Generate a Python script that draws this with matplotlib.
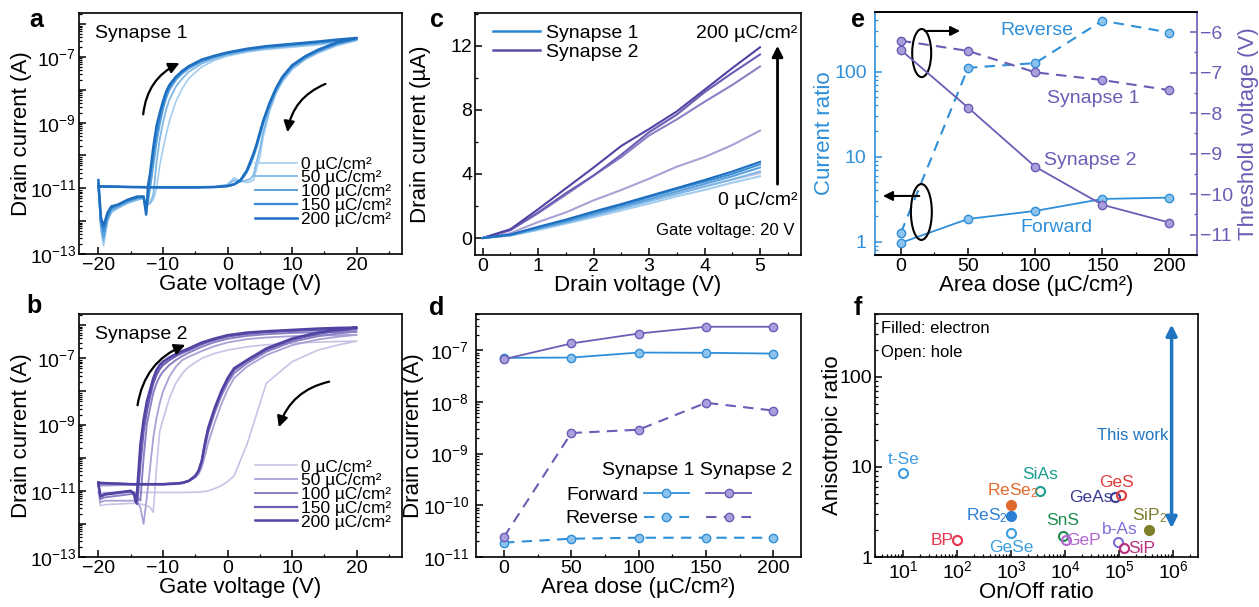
import numpy as np
import matplotlib.pyplot as plt
from matplotlib.patches import Ellipse
from matplotlib.ticker import MultipleLocator, LogLocator, NullFormatter, FuncFormatter

plt.rcParams['font.family'] = ['Liberation Sans', 'DejaVu Sans']
plt.rcParams['mathtext.fontset'] = 'custom'
plt.rcParams['mathtext.rm'] = 'Liberation Sans'
plt.rcParams['mathtext.it'] = 'Liberation Sans:italic'
plt.rcParams['mathtext.default'] = 'regular'
plt.rcParams['xtick.direction'] = 'in'
plt.rcParams['ytick.direction'] = 'in'
plt.rcParams['axes.linewidth'] = 1.2
plt.rcParams['xtick.labelsize'] = 14
plt.rcParams['ytick.labelsize'] = 14
plt.rcParams['axes.labelsize'] = 16

# ---------------- data ----------------
doses = [0, 50, 100, 150, 200]
dose_labels = ['0 µC/cm²', '50 µC/cm²', '100 µC/cm²', '150 µC/cm²', '200 µC/cm²']

# panel a: Synapse 1 transfer curves (log10 of drain current)
fv1 = [-20, -19.6, -19.2, -18.6, -18, -17, -15.5, -14, -13, -12.6, -12.3, -12.0, -11.5, -11, -10.5,
       -10, -9.5, -9, -8, -7, -6, -4, -2, 0, 3, 6, 10, 14, 17, 20]
fwd1 = [
    [-10.95, -12.3, -12.75, -12.0, -11.75, -11.6, -11.45, -11.35, -11.3, -11.45, -11.5, -11.45, -11.35,
     -11.0, -10.3, -9.8, -9.35, -8.95, -8.35, -7.95, -7.65, -7.3, -7.1, -6.97, -6.85, -6.77, -6.7, -6.63, -6.56, -6.5],
    [-10.95, -12.2, -12.6, -12.0, -11.7, -11.6, -11.45, -11.35, -11.3, -11.45, -11.5, -11.45, -11.2,
     -10.2, -9.5, -9.0, -8.6, -8.3, -7.9, -7.65, -7.45, -7.2, -7.05, -6.93, -6.82, -6.74, -6.67, -6.6, -6.54, -6.48],
    [-10.95, -12.1, -12.5, -11.9, -11.65, -11.55, -11.4, -11.3, -11.28, -11.6, -11.4, -11.0, -10.3,
     -9.6, -9.05, -8.6, -8.25, -8.0, -7.7, -7.5, -7.35, -7.14, -7.0, -6.9, -6.79, -6.71, -6.64, -6.57, -6.51, -6.46],
    [-10.85, -12.0, -12.3, -11.85, -11.6, -11.5, -11.38, -11.28, -11.25, -11.7, -11.2, -10.6, -9.95,
     -9.3, -8.85, -8.45, -8.12, -7.9, -7.63, -7.45, -7.3, -7.1, -6.98, -6.88, -6.77, -6.69, -6.62, -6.55, -6.49, -6.44],
    [-10.75, -11.9, -12.15, -11.75, -11.55, -11.5, -11.35, -11.25, -11.25, -11.8, -10.9, -10.55, -9.75,
     -9.1, -8.7, -8.35, -8.05, -7.85, -7.6, -7.42, -7.28, -7.08, -6.96, -6.86, -6.75, -6.67, -6.6, -6.53, -6.47, -6.42],
]
bv1 = [20, 17, 14, 12, 10, 8.5, 7.5, 6.5, 5.5, 5, 4.5, 4, 3.5, 3, 2.5, 2, 1, 0, -2, -5, -10, -15, -20]
bwd1 = [
    [-6.5, -6.65, -6.88, -7.08, -7.38, -7.75, -8.1, -8.65, -9.45, -10.05, -10.4, -10.75, -10.8, -10.82,
     -10.8, -10.78, -10.68, -10.88, -10.95, -10.97, -10.97, -10.96, -10.94],
    [-6.48, -6.62, -6.86, -7.06, -7.35, -7.72, -8.08, -8.6, -9.3, -9.8, -10.2, -10.6, -10.72, -10.75,
     -10.78, -10.8, -10.75, -10.9, -10.96, -10.97, -10.97, -10.96, -10.94],
    [-6.46, -6.6, -6.82, -7.02, -7.3, -7.65, -8.0, -8.48, -9.05, -9.4, -9.75, -10.05, -10.3, -10.5,
     -10.65, -10.78, -10.88, -10.93, -10.96, -10.97, -10.97, -10.96, -10.94],
    [-6.44, -6.57, -6.8, -7.0, -7.27, -7.62, -7.97, -8.43, -8.98, -9.33, -9.68, -9.98, -10.22, -10.47,
     -10.62, -10.76, -10.88, -10.93, -10.96, -10.97, -10.97, -10.96, -10.94],
    [-6.42, -6.55, -6.78, -6.98, -7.25, -7.6, -7.95, -8.4, -8.95, -9.3, -9.65, -9.95, -10.2, -10.45,
     -10.6, -10.75, -10.88, -10.93, -10.96, -10.97, -10.97, -10.96, -10.94],
]

# panel b: Synapse 2 transfer curves (log10 of drain current)
fv2 = [-20, -19.7, -19, -17, -15, -14.5, -14.2, -14, -13.5, -13, -12.5, -12, -11.5, -11, -10.5, -10,
       -9, -8, -7, -6, -4, -2, 0, 3, 6, 10, 14, 17, 20]
fwd2 = [
    [-11.05, -11.45, -11.42, -11.4, -11.38, -11.38, -11.38, -11.38, -11.4, -11.42, -11.45, -11.5, -11.65,
     -10.3, -9.2, -8.85, -8.2, -7.75, -7.45, -7.25, -7.0, -6.85, -6.75, -6.65, -6.59, -6.54, -6.51, -6.49, -6.48],
    [-10.85, -11.35, -11.3, -11.3, -11.3, -11.3, -11.32, -11.35, -11.5, -12.0, -11.2, -10.3, -9.4, -8.8,
     -8.35, -8.0, -7.55, -7.25, -7.05, -6.95, -6.78, -6.63, -6.52, -6.42, -6.37, -6.33, -6.31, -6.3, -6.29],
    [-10.8, -11.25, -11.2, -11.15, -11.1, -11.1, -11.15, -11.2, -11.3, -10.0, -9.0, -8.5, -8.05, -7.75,
     -7.55, -7.4, -7.2, -7.05, -6.93, -6.83, -6.65, -6.51, -6.41, -6.32, -6.27, -6.23, -6.21, -6.2, -6.19],
    [-10.76, -11.2, -11.12, -11.07, -11.02, -11.05, -11.2, -11.4, -10.2, -9.2, -8.6, -8.15, -7.75, -7.5,
     -7.32, -7.2, -7.05, -6.93, -6.83, -6.75, -6.57, -6.44, -6.34, -6.26, -6.21, -6.17, -6.14, -6.12, -6.11],
    [-10.76, -11.15, -11.1, -11.05, -11.0, -11.1, -11.35, -11.0, -9.6, -8.85, -8.3, -7.95, -7.6, -7.35,
     -7.2, -7.1, -6.97, -6.87, -6.78, -6.7, -6.52, -6.4, -6.3, -6.22, -6.18, -6.14, -6.1, -6.08, -6.07],
]
bv2 = [20, 17, 14, 10, 6, 3, 1, 0, -1, -2, -3, -3.5, -4, -4.5, -5, -6, -7, -8, -10, -15, -20]
bwd2 = [
    [-6.48, -6.6, -6.75, -7.1, -7.75, -9.6, -10.55, -10.72, -10.85, -10.93, -11.0, -11.02, -11.03, -11.04,
     -11.04, -11.05, -11.05, -11.05, -11.05, -11.05, -11.05],
    [-6.29, -6.35, -6.43, -6.6, -6.9, -7.25, -7.6, -7.95, -8.4, -8.95, -9.55, -9.95, -10.3, -10.5, -10.6,
     -10.72, -10.78, -10.8, -10.82, -10.82, -10.85],
    [-6.19, -6.25, -6.33, -6.5, -6.8, -7.15, -7.45, -7.75, -8.15, -8.65, -9.25, -9.7, -10.15, -10.42,
     -10.57, -10.7, -10.76, -10.78, -10.8, -10.8, -10.8],
    [-6.11, -6.17, -6.26, -6.44, -6.74, -7.08, -7.35, -7.65, -8.05, -8.55, -9.15, -9.6, -10.1, -10.4,
     -10.55, -10.7, -10.76, -10.78, -10.8, -10.8, -10.76],
    [-6.07, -6.13, -6.22, -6.4, -6.7, -7.05, -7.3, -7.6, -8.0, -8.5, -9.1, -9.55, -10.1, -10.4, -10.55,
     -10.7, -10.76, -10.78, -10.8, -10.8, -10.76],
]

# panel c: output curves at Vg = 20 V (µA)
vd = [0, 0.5, 1, 1.5, 2, 2.5, 3, 3.5, 4, 4.5, 5]
out1 = [
    [0, 0.15, 0.5, 0.9, 1.3, 1.72, 2.15, 2.6, 3.0, 3.45, 3.85],
    [0, 0.17, 0.55, 0.95, 1.4, 1.85, 2.3, 2.75, 3.2, 3.65, 4.15],
    [0, 0.18, 0.6, 1.02, 1.48, 1.95, 2.42, 2.9, 3.38, 3.85, 4.4],
    [0, 0.2, 0.65, 1.1, 1.58, 2.05, 2.55, 3.05, 3.52, 4.0, 4.6],
    [0, 0.22, 0.7, 1.15, 1.65, 2.12, 2.62, 3.12, 3.62, 4.15, 4.75],
]
out2 = [
    [0, 0.17, 0.55, 0.98, 1.45, 1.9, 2.35, 2.8, 3.25, 3.65, 4.05],
    [0, 0.3, 1.0, 1.6, 2.35, 3.0, 3.7, 4.45, 5.05, 5.8, 6.7],
    [0, 0.5, 1.55, 2.7, 3.9, 5.05, 6.4, 7.4, 8.5, 9.55, 10.7],
    [0, 0.5, 1.6, 2.8, 3.9, 5.2, 6.6, 7.7, 9.1, 10.3, 11.45],
    [0, 0.55, 1.8, 3.1, 4.4, 5.75, 6.8, 7.9, 9.25, 10.6, 11.9],
]

# panel d: drain current vs dose (A)
fwd_s1 = [7.1e-8, 7.2e-8, 9.0e-8, 8.9e-8, 8.6e-8]
fwd_s2 = [6.7e-8, 1.35e-7, 2.1e-7, 2.84e-7, 2.84e-7]
rev_s1 = [1.9e-11, 2.26e-11, 2.36e-11, 2.36e-11, 2.36e-11]
rev_s2 = [2.45e-11, 2.5e-9, 2.9e-9, 9.6e-9, 6.8e-9]

# panel e: current ratio and threshold voltage vs dose
ratio_rev = [1.27, 111, 126, 398, 288]
ratio_fwd = [0.97, 1.85, 2.3, 3.18, 3.3]
vth_s1 = [-6.21, -6.46, -6.99, -7.18, -7.43]
vth_s2 = [-6.44, -7.86, -9.32, -10.26, -10.70]

# panel f: benchmark
materials = ['t-Se', 'BP', 'ReSe$_2$', 'ReS$_2$', 'GeSe', 'SiAs', 'SnS', 'GeP', 'GeAs', 'GeS', 'b-As', 'SiP', 'SiP$_2$']
onoff = [10, 100, 1000, 1000, 1000, 3400, 8900, 10200, 83000, 107000, 96000, 123000, 360000]
aniso = [8.5, 1.53, 3.77, 2.87, 1.87, 5.45, 1.71, 1.53, 4.59, 4.9, 1.47, 1.25, 1.98]
filled = [False, False, True, True, False, False, False, False, False, False, False, False, True]
this_work = [1.95, 410]

# ---------------- styles ----------------
blues = ['#a3cdef', '#7fb8e8', '#5aa2de', '#3a8bd3', '#1f6fc0']
purples = ['#c8c3e5', '#a9a1d6', '#8b80c5', '#6a5eb4', '#5044a3']
lws = [1.2, 1.3, 1.4, 1.6, 1.8]
c_blue = '#2f8fd8'
c_purple = '#6a5db5'
mat_colors = ['#3d9be0', '#e8344e', '#e06a2c', '#2b7fd4', '#3da0e0', '#1a9e8f', '#1e8c4e', '#b467d0',
              '#3b3b95', '#e33a3a', '#7b6fd6', '#b8307e', '#7d7d2a']
mat_offsets = [(0, 10), (-11, 0), (1, 10.5), (-17.5, 0), (0, -11), (0, 11.5), (0, 11), (12.5, 0),
               (-17.5, 0), (-3, 9), (1, 9), (12.5, 0), (0, 10.5)]

W, H = 1259, 607
fig = plt.figure(figsize=(W / 100, H / 100), dpi=100)


def add_ax(x0, y0, x1, y1):
    return fig.add_axes([x0 / W, 1 - y1 / H, (x1 - x0) / W, (y1 - y0) / H])


ax_a = add_ax(79, 13, 402, 254)
ax_b = add_ax(79, 314, 402, 557)
ax_c = add_ax(475, 13, 801, 255)
ax_d = add_ax(476, 314, 801, 557)
ax_e = add_ax(875, 12, 1197, 255)
ax_f = add_ax(875, 314, 1198, 557)


def exp_label(y, pos):
    e = int(round(np.log10(y)))
    return '$10^{%d}$' % e if e % 2 == 1 or e % 2 == -1 else ''


def transfer_panel(ax, fv, fwd, bv, bwd, colors, title):
    for i in range(5):
        v = fv + bv
        cur = 10 ** np.array(fwd[i] + bwd[i])
        ax.semilogy(v, cur, color=colors[i], lw=lws[i], label=dose_labels[i])
    ax.set_xlim(-23, 27)
    ax.set_ylim(1e-13, 10 ** -5.66)
    ax.xaxis.set_major_locator(MultipleLocator(10))
    ax.xaxis.set_minor_locator(MultipleLocator(5))
    ax.yaxis.set_major_locator(LogLocator(base=10, numticks=20))
    ax.yaxis.set_major_formatter(FuncFormatter(exp_label))
    ax.yaxis.set_minor_locator(LogLocator(base=10, subs=np.arange(2, 10), numticks=20))
    ax.yaxis.set_minor_formatter(NullFormatter())
    ax.tick_params(which='major', length=5, width=1.1, pad=2)
    ax.tick_params(which='minor', length=2.5, width=0.9)
    ax.set_xlabel('Gate voltage (V)', labelpad=0)
    ax.set_ylabel('Drain current (A)')
    ax.yaxis.set_label_coords(-0.145, 0.5)
    ax.text(0.05, 0.915, title, transform=ax.transAxes, fontsize=14, va='center')
    ax.legend(loc='lower right', bbox_to_anchor=(1.0, 0.07), frameon=False, fontsize=12.5,
              handlelength=2.4, handletextpad=0.25, labelspacing=-0.08, borderaxespad=0.2)


transfer_panel(ax_a, fv1, fwd1, bv1, bwd1, blues, 'Synapse 1')
transfer_panel(ax_b, fv2, fwd2, bv2, bwd2, purples, 'Synapse 2')
arrow_kw = dict(arrowstyle='-|>', color='black', lw=1.6, mutation_scale=16)
ax_a.annotate('', xy=(0.319, 0.797), xytext=(0.198, 0.568), xycoords='axes fraction',
              arrowprops=dict(connectionstyle='arc3,rad=-0.3', **arrow_kw))
ax_a.annotate('', xy=(0.644, 0.494), xytext=(0.771, 0.710), xycoords='axes fraction',
              arrowprops=dict(connectionstyle='arc3,rad=0.3', **arrow_kw))
ax_b.annotate('', xy=(0.337, 0.877), xytext=(0.180, 0.613), xycoords='axes fraction',
              arrowprops=dict(connectionstyle='arc3,rad=-0.3', **arrow_kw))
ax_b.annotate('', xy=(0.616, 0.523), xytext=(0.783, 0.724), xycoords='axes fraction',
              arrowprops=dict(connectionstyle='arc3,rad=0.3', **arrow_kw))

# panel c
for i in range(5):
    ax_c.plot(vd, out2[i], color=purples[i], lw=1.5)
for i in range(5):
    ax_c.plot(vd, out1[i], color=blues[i], lw=1.5)
ax_c.plot([], [], color='#2a86d1', lw=1.8, label='Synapse 1')
ax_c.plot([], [], color='#5a4ea8', lw=1.8, label='Synapse 2')
ax_c.legend(loc='upper left', frameon=False, fontsize=14, handlelength=2.4, handletextpad=0.3,
            labelspacing=0.05, borderaxespad=0.2, bbox_to_anchor=(0.02, 1.0))
ax_c.set_xlim(-0.14, 5.74)
ax_c.set_ylim(-1.06, 14.04)
ax_c.xaxis.set_major_locator(MultipleLocator(1))
ax_c.xaxis.set_minor_locator(MultipleLocator(0.5))
ax_c.yaxis.set_major_locator(MultipleLocator(4))
ax_c.yaxis.set_minor_locator(MultipleLocator(2))
ax_c.tick_params(which='major', length=5, width=1.1, pad=2)
ax_c.tick_params(which='minor', length=2.5, width=0.9)
ax_c.set_xlabel('Drain voltage (V)', labelpad=0)
ax_c.set_ylabel('Drain current (µA)')
ax_c.yaxis.set_label_coords(-0.135, 0.5)
ax_c.annotate('', xy=(0.928, 0.876), xytext=(0.928, 0.281), xycoords='axes fraction',
              arrowprops=dict(arrowstyle='-|>', color='black', lw=2, mutation_scale=16))
ax_c.text(0.834, 0.917, '200 µC/cm²', transform=ax_c.transAxes, fontsize=14, ha='center', va='center')
ax_c.text(0.868, 0.227, '0 µC/cm²', transform=ax_c.transAxes, fontsize=14, ha='center', va='center')
ax_c.text(0.767, 0.103, 'Gate voltage: 20 V', transform=ax_c.transAxes, fontsize=12, ha='center', va='center')

# panel d
mk = dict(marker='o', ms=6, mew=1.0)
h1, = ax_d.semilogy(doses, fwd_s1, color=c_blue, lw=1.3, mfc='#8cc4ee', mec=c_blue, **mk)
h2, = ax_d.semilogy(doses, fwd_s2, color=c_purple, lw=1.3, mfc='#a99fdc', mec=c_purple, **mk)
h3, = ax_d.semilogy(doses, rev_s1, color=c_blue, lw=1.5, ls=(0, (5, 3.5)), mfc='#8cc4ee', mec=c_blue, **mk)
h4, = ax_d.semilogy(doses, rev_s2, color=c_purple, lw=1.5, ls=(0, (5, 3.5)), mfc='#a99fdc', mec=c_purple, **mk)
ax_d.legend([h1, h3, h2, h4], ['Forward', 'Reverse', '', ''], ncol=2, markerfirst=False, frameon=False,
            fontsize=14, handlelength=2.3, handletextpad=0.3, columnspacing=0.6, labelspacing=0.3,
            loc='lower right', bbox_to_anchor=(0.9, 0.05))
ax_d.text(0.68, 0.354, 'Synapse 1 Synapse 2', transform=ax_d.transAxes, fontsize=14, ha='center', va='center')
ax_d.set_xlim(-20.8, 220.6)
ax_d.set_ylim(1e-11, 10 ** -6.3)
ax_d.xaxis.set_major_locator(MultipleLocator(50))
ax_d.xaxis.set_minor_locator(MultipleLocator(25))
ax_d.yaxis.set_major_locator(LogLocator(base=10, numticks=20))
ax_d.yaxis.set_minor_locator(LogLocator(base=10, subs=np.arange(2, 10), numticks=20))
ax_d.yaxis.set_minor_formatter(NullFormatter())
ax_d.tick_params(which='major', length=5, width=1.1, pad=2)
ax_d.tick_params(axis='y', which='major', pad=5)
ax_d.tick_params(which='minor', length=2.5, width=0.9)
ax_d.set_xlabel('Area dose (µC/cm²)', labelpad=0)
ax_d.set_ylabel('Drain current (A)')
ax_d.yaxis.set_label_coords(-0.16, 0.5)

# panel e
ax_e2 = ax_e.twinx()
ax_e.semilogy(doses, ratio_rev, color=c_blue, lw=1.5, ls=(0, (5, 3.5)), mfc='#8cc4ee', mec=c_blue, **mk)
ax_e.semilogy(doses, ratio_fwd, color=c_blue, lw=1.3, mfc='#8cc4ee', mec=c_blue, **mk)
ax_e2.plot(doses, vth_s1, color=c_purple, lw=1.5, ls=(0, (5, 3.5)), mfc='#a99fdc', mec=c_purple, **mk)
ax_e2.plot(doses, vth_s2, color=c_purple, lw=1.3, mfc='#a99fdc', mec=c_purple, **mk)
ax_e.set_xlim(-19.3, 220.5)
ax_e.set_ylim(0.697, 503)
ax_e2.set_ylim(-11.5, -5.5)
ax_e.xaxis.set_major_locator(MultipleLocator(50))
ax_e.xaxis.set_minor_locator(MultipleLocator(25))
ax_e.yaxis.set_major_locator(LogLocator(base=10, numticks=10))
ax_e.yaxis.set_major_formatter(FuncFormatter(lambda y, p: '%g' % y))
ax_e.yaxis.set_minor_locator(LogLocator(base=10, subs=np.arange(2, 10), numticks=10))
ax_e.yaxis.set_minor_formatter(NullFormatter())
ax_e2.yaxis.set_major_locator(MultipleLocator(1))
ax_e2.yaxis.set_minor_locator(MultipleLocator(0.5))
for a in (ax_e, ax_e2):
    a.tick_params(which='major', length=5, width=1.1, pad=2)
    a.tick_params(which='minor', length=2.5, width=0.9)
ax_e.tick_params(axis='y', which='major', pad=6)
ax_e.tick_params(axis='y', which='both', colors=c_blue)
ax_e2.tick_params(axis='y', which='both', colors=c_purple)
ax_e.spines['left'].set_color(c_blue)
ax_e2.spines['left'].set_visible(False)
ax_e.spines['right'].set_visible(False)
ax_e2.spines['right'].set_color(c_purple)
ax_e.set_xlabel('Area dose (µC/cm²)', labelpad=0)
ax_e.set_ylabel('Current ratio', color=c_blue)
ax_e.yaxis.set_label_coords(-0.125, 0.5)
ax_e2.set_ylabel('Threshold voltage (V)', color=c_purple)
ax_e.text(0.503, 0.922, 'Reverse', transform=ax_e.transAxes, color=c_blue, fontsize=14, ha='center', va='center')
ax_e.text(0.677, 0.646, 'Synapse 1', transform=ax_e.transAxes, color=c_purple, fontsize=14, ha='center', va='center')
ax_e.text(0.668, 0.387, 'Synapse 2', transform=ax_e.transAxes, color=c_purple, fontsize=14, ha='center', va='center')
ax_e.text(0.565, 0.115, 'Forward', transform=ax_e.transAxes, color=c_blue, fontsize=14, ha='center', va='center')
for cx, cy, ew, eh in [(0.145, 0.831, 0.059, 0.198), (0.144, 0.177, 0.065, 0.23)]:
    ax_e2.add_patch(Ellipse((cx, cy), ew, eh, transform=ax_e2.transAxes, fill=False, ec='black', lw=1.5))
ax_e2.annotate('', xy=(0.273, 0.922), xytext=(0.146, 0.922), xycoords='axes fraction',
               arrowprops=dict(arrowstyle='-|>', color='black', lw=1.5, mutation_scale=14))
ax_e2.annotate('', xy=(0.016, 0.243), xytext=(0.146, 0.243), xycoords='axes fraction',
               arrowprops=dict(arrowstyle='-|>', color='black', lw=1.5, mutation_scale=14))

# panel f
for i, name in enumerate(materials):
    col = mat_colors[i]
    ax_f.loglog(onoff[i], aniso[i], marker='o', ms=6.5, mew=1.5, mec=col, mfc=col if filled[i] else 'none', ls='none')
    ax_f.annotate(name, (onoff[i], aniso[i]), xytext=mat_offsets[i], textcoords='offset points',
                  color=col, fontsize=12.5, ha='center', va='center')
ax_f.annotate('', xy=(9.3e5, this_work[1]), xytext=(9.3e5, this_work[0]),
              arrowprops=dict(arrowstyle='<|-|>', color='#1f75c0', lw=2.5, mutation_scale=16))
ax_f.text(1.8e5, 22.3, 'This work', color='#1f75c0', fontsize=12, ha='center', va='center')
ax_f.text(0.02, 0.94, 'Filled: electron', transform=ax_f.transAxes, fontsize=12, va='center')
ax_f.text(0.02, 0.84, 'Open: hole', transform=ax_f.transAxes, fontsize=12, va='center')
ax_f.set_xlim(10 ** 0.476, 10 ** 6.457)
ax_f.set_ylim(1, 500)
ax_f.xaxis.set_major_locator(LogLocator(base=10, numticks=10))
ax_f.xaxis.set_minor_locator(LogLocator(base=10, subs=np.arange(2, 10), numticks=10))
ax_f.xaxis.set_minor_formatter(NullFormatter())
ax_f.yaxis.set_major_locator(LogLocator(base=10, numticks=10))
ax_f.yaxis.set_major_formatter(FuncFormatter(lambda y, p: '%g' % y))
ax_f.yaxis.set_minor_locator(LogLocator(base=10, subs=np.arange(2, 10), numticks=10))
ax_f.yaxis.set_minor_formatter(NullFormatter())
ax_f.tick_params(which='major', length=5, width=1.1, pad=2)
ax_f.tick_params(which='minor', length=2.5, width=0.9)
ax_f.set_xlabel('On/Off ratio', labelpad=0)
ax_f.set_ylabel('Anisotropic ratio')
ax_f.yaxis.set_label_coords(-0.1, 0.5)

for letter, x, y in [('a', 36, 20), ('b', 34, 306), ('c', 437, 20), ('d', 437, 308), ('e', 858, 20), ('f', 858, 308)]:
    fig.text(x / W, 1 - y / H, letter, fontsize=18, fontweight='bold', ha='center', va='center')

fig.savefig('out.png', dpi=100)
